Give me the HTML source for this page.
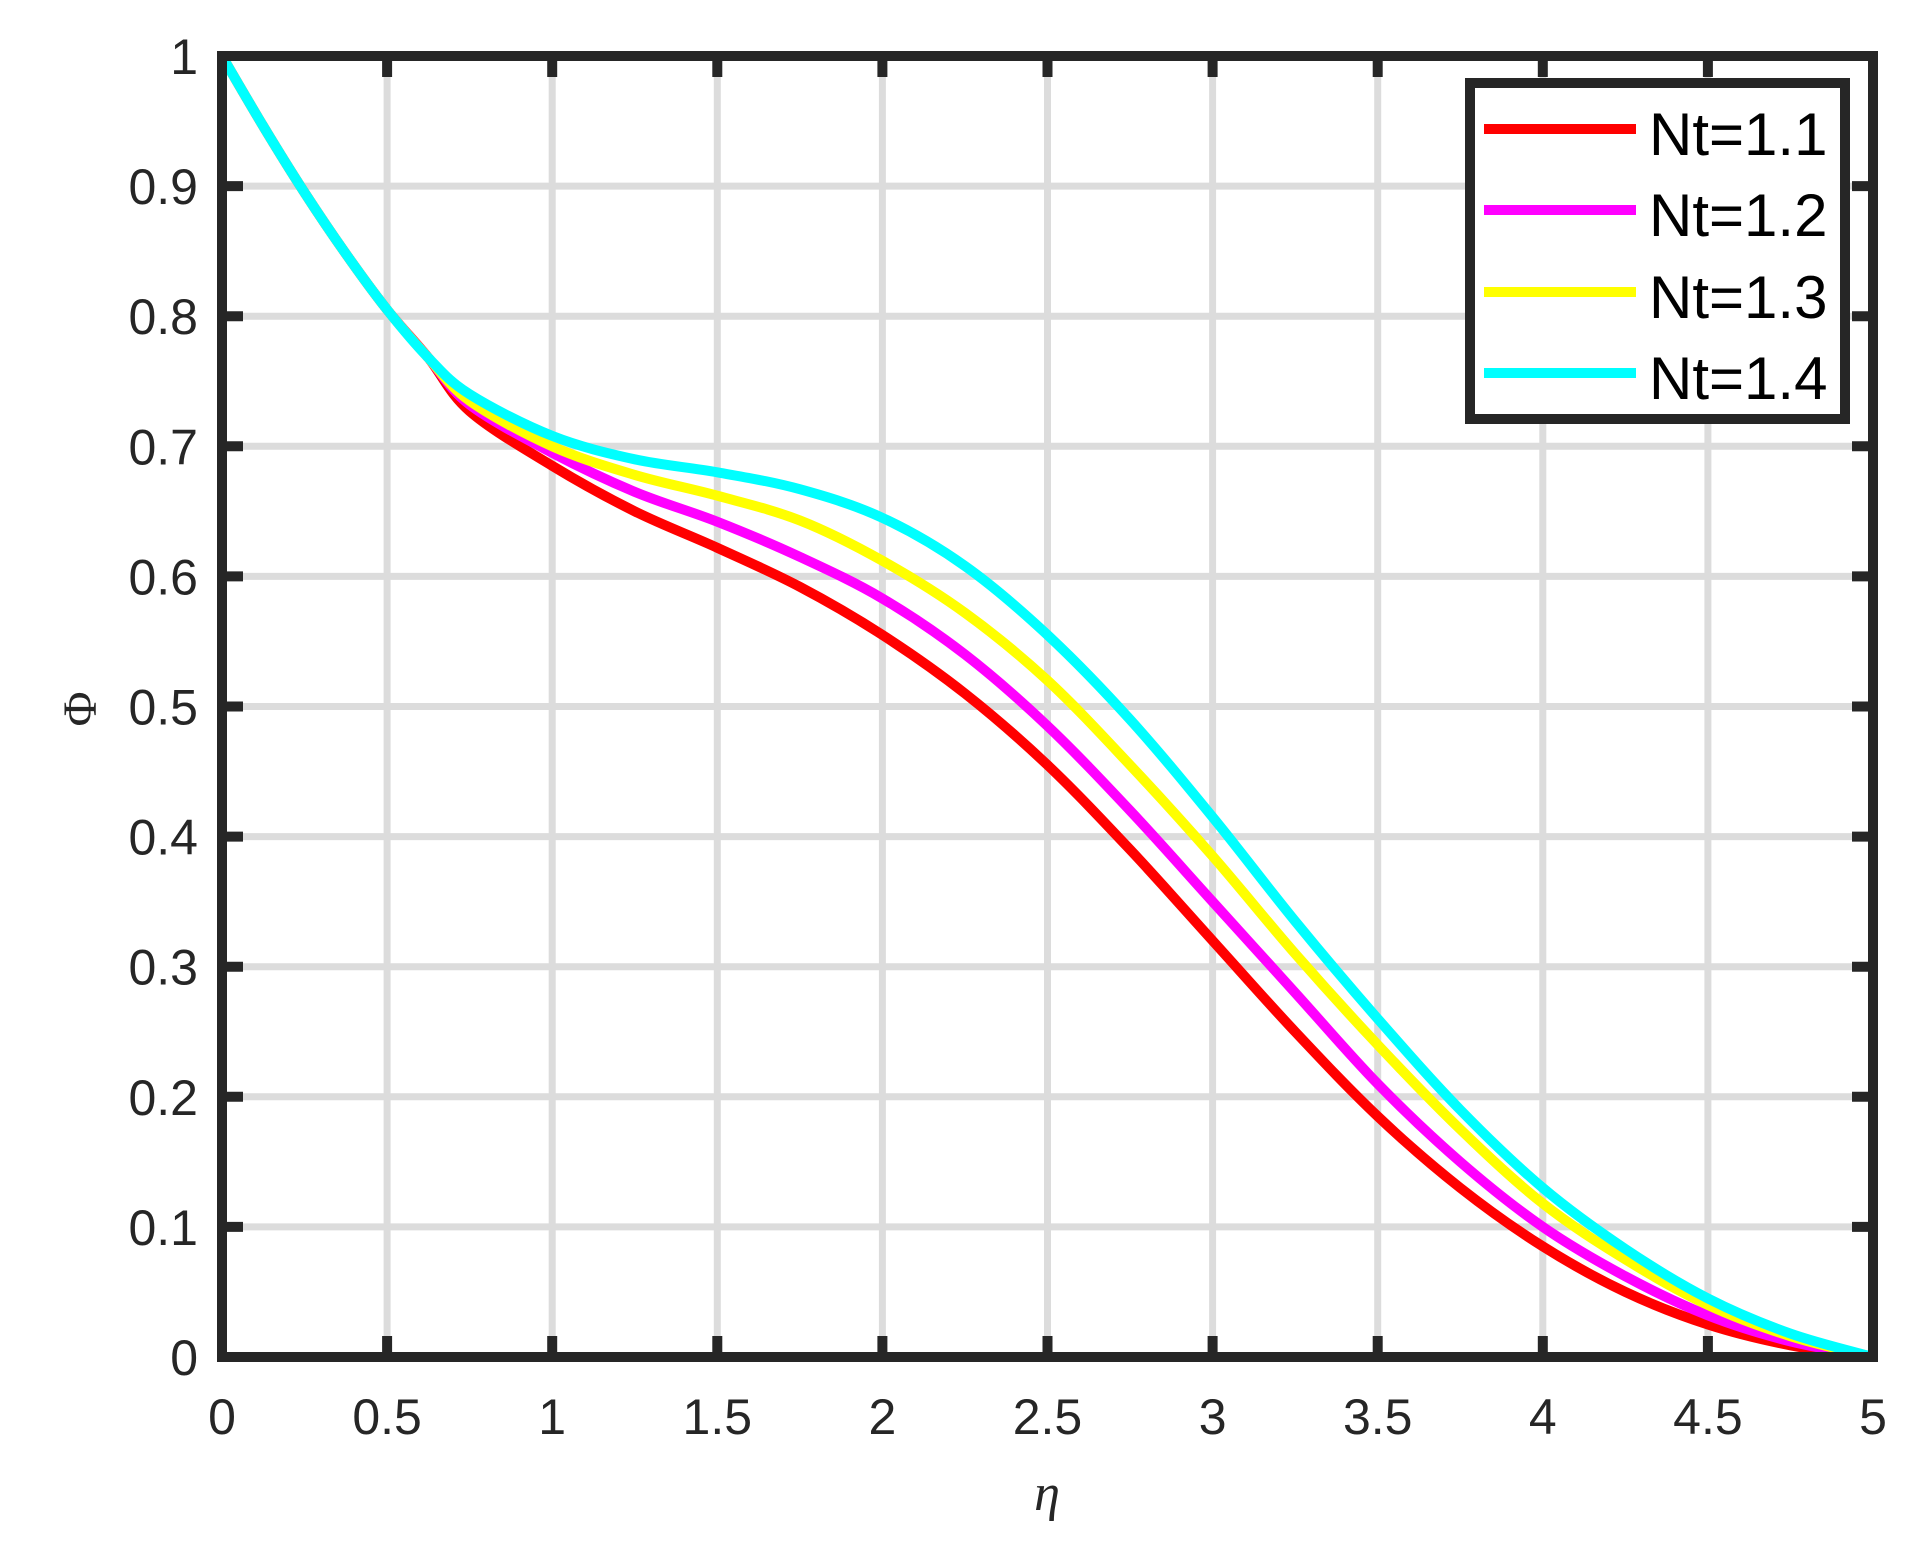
<!DOCTYPE html>
<html><head><meta charset="utf-8"><style>html,body{margin:0;padding:0;background:#fff}svg{display:block}</style></head>
<body>
<svg id="s" width="1913" height="1551" xmlns="http://www.w3.org/2000/svg">
<rect width="1913" height="1551" fill="#fff"/>
<g id="grid" stroke="#dcdcdc" stroke-width="7"></g>
<g id="curves" fill="none" stroke-width="10" stroke-linejoin="round" stroke-linecap="butt"></g>
<g id="ticks" stroke="#262626" stroke-width="10"></g>
<rect x="222" y="56" width="1651" height="1301" fill="none" stroke="#262626" stroke-width="10"/>
<g id="labels" font-family="Liberation Sans, sans-serif" font-size="50" fill="#262626"></g>
<text x="1047" y="1510" font-family="Liberation Serif, serif" font-style="italic" font-size="52" fill="#262626" text-anchor="middle">η</text>
<text transform="translate(96,709) rotate(-90)" font-family="Liberation Serif, serif" font-size="48" fill="#262626" text-anchor="middle">Φ</text>
<rect x="1470" y="83" width="375" height="336" fill="#fff" stroke="#262626" stroke-width="10"/>
<g stroke-width="10">
<line x1="1484" y1="129" x2="1636" y2="129" stroke="#ff0000"/>
<line x1="1484" y1="210" x2="1636" y2="210" stroke="#ff00ff"/>
<line x1="1484" y1="292" x2="1636" y2="292" stroke="#ffff00"/>
<line x1="1484" y1="373" x2="1636" y2="373" stroke="#00ffff"/>
</g>
<g font-family="Liberation Sans, sans-serif" font-size="60" fill="#000">
<text x="1649" y="155">Nt=1.1</text>
<text x="1649" y="236">Nt=1.2</text>
<text x="1649" y="318">Nt=1.3</text>
<text x="1649" y="399">Nt=1.4</text>
</g>
</svg>
<script>
const NS="http://www.w3.org/2000/svg";
const X=v=>222+v*330.2, Y=v=>1357-v*1301;
function el(p,t,a,txt){const e=document.createElementNS(NS,t);for(const k in a)e.setAttribute(k,a[k]);if(txt!=null)e.textContent=txt;document.getElementById(p).appendChild(e);}
for(let i=1;i<10;i++){const x=X(i*0.5);el('grid','line',{x1:x,y1:56,x2:x,y2:1357});}
for(let i=1;i<10;i++){const y=Y(i*0.1);el('grid','line',{x1:222,y1:y,x2:1873,y2:y});}
for(let i=0;i<=10;i++){const x=X(i*0.5);el('ticks','line',{x1:x,y1:1357,x2:x,y2:1336});el('ticks','line',{x1:x,y1:56,x2:x,y2:77});
 el('labels','text',{x:x,y:1434,'text-anchor':'middle'},String(i*0.5));}
for(let i=0;i<=10;i++){const y=Y(i*0.1);el('ticks','line',{x1:222,y1:y,x2:243,y2:y});el('ticks','line',{x1:1873,y1:y,x2:1852,y2:y});
 el('labels','text',{x:198,y:y+18,'text-anchor':'end'},i==0?'0':i==10?'1':(i/10).toFixed(1));}
const head=[[0,1],[0.125,0.946],[0.25,0.895],[0.375,0.848],[0.5,0.805],[0.625,0.768]];
const etas=[0.75,1,1.25,1.5,1.75,2,2.25,2.5,2.75,3,3.25,3.5,3.75,4,4.25,4.5,4.75,5];
const D={
'#ff0000':[0.727,0.685,0.65,0.622,0.592,0.555,0.51,0.455,0.39,0.32,0.25,0.185,0.13,0.085,0.05,0.025,0.009,0],
'#ff00ff':[0.732,0.695,0.665,0.642,0.615,0.583,0.54,0.485,0.42,0.35,0.28,0.21,0.15,0.1,0.062,0.032,0.012,0],
'#ffff00':[0.735,0.70,0.678,0.662,0.643,0.612,0.572,0.52,0.455,0.385,0.31,0.24,0.175,0.118,0.075,0.04,0.016,0],
'#00ffff':[0.74,0.708,0.69,0.68,0.667,0.645,0.608,0.555,0.49,0.415,0.335,0.26,0.19,0.13,0.083,0.045,0.018,0]};
for(const c in D){const pts=head.concat(etas.map((e,i)=>[e,D[c][i]])).map(p=>[X(p[0]),Y(p[1])]);
 let d='M'+pts[0];for(let i=0;i<pts.length-1;i++){const p0=pts[Math.max(0,i-1)],p1=pts[i],p2=pts[i+1],p3=pts[Math.min(pts.length-1,i+2)];
 const c1=[p1[0]+(p2[0]-p0[0])/6,p1[1]+(p2[1]-p0[1])/6],c2=[p2[0]-(p3[0]-p1[0])/6,p2[1]-(p3[1]-p1[1])/6];d+='C'+c1+' '+c2+' '+p2;}
 el('curves','path',{d:d,stroke:c});}
</script>
</body></html>
